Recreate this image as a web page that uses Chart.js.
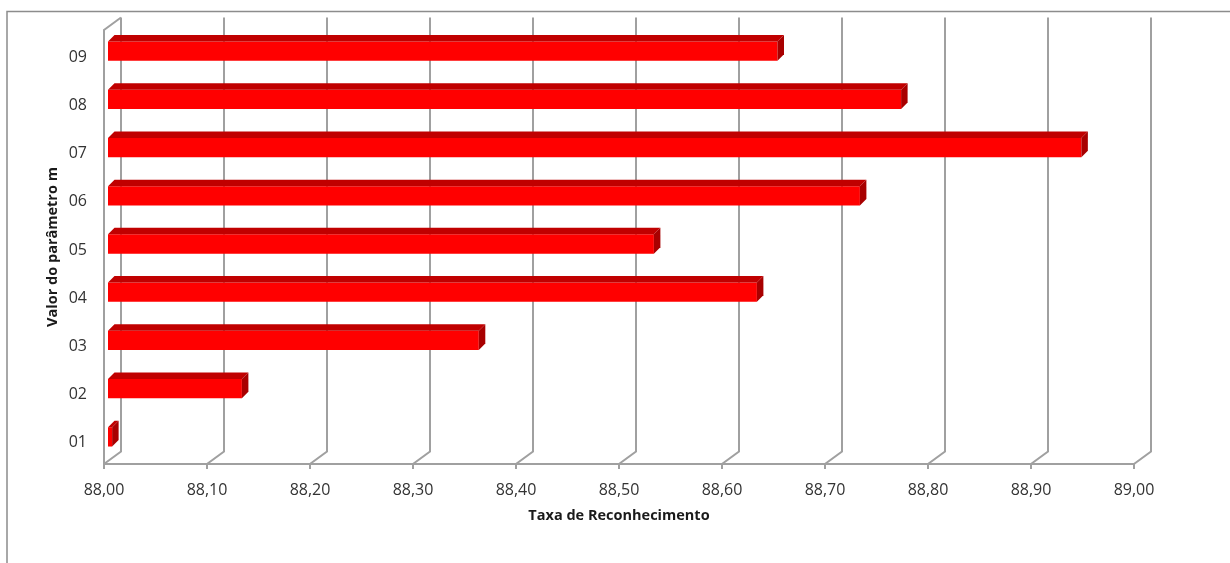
<!DOCTYPE html>
<html>
<head>
<meta charset="utf-8">
<script src="https://cdn.jsdelivr.net/npm/chart.js@4/dist/chart.umd.min.js"></script>
<style>
    html, body { margin: 0; padding: 0; background: #ffffff; }
    #wrap { width: 1230px; height: 563px; position: relative; }
</style>
</head>
<body>
<div id="wrap"><canvas id="taxaChart" width="1230" height="563"></canvas></div>
<script>
const categories = ["01", "02", "03", "04", "05", "06", "07", "08", "09"];
const taxaReconhecimento = [88.004, 88.13, 88.36, 88.63, 88.53, 88.73, 88.945, 88.77, 88.65];
const xTicks = [88.0, 88.1, 88.2, 88.3, 88.4, 88.5, 88.6, 88.7, 88.8, 88.9, 89.0];

// 3D look: back wall offset and the depth of each bar
const WALL = { dx: 17, dy: -12.5 };
const BAR_SHIFT = { dx: 4, dy: -3 };
const BAR_DEPTH = { dx: 6.5, dy: -6.5 };
const GRID_COLOR = "#a0a0a0";

function fmt(v) {
    return Number(v).toFixed(2).replace(".", ",");
}

const walls3d = {
    id: "walls3d",
    beforeDraw(chart) {
        const ctx = chart.ctx;
        const area = chart.chartArea;
        const x = chart.scales.x;

        ctx.save();
        // outer frame
        ctx.strokeStyle = "#8c8c8c";
        ctx.lineWidth = 1.5;
        ctx.beginPath();
        ctx.moveTo(7, chart.height);
        ctx.lineTo(7, 11.5);
        ctx.lineTo(chart.width, 11.5);
        ctx.stroke();

        ctx.strokeStyle = GRID_COLOR;
        ctx.lineWidth = 2;
        ctx.beginPath();
        xTicks.forEach((v) => {
            const px = Math.round(x.getPixelForValue(v));
            // back wall gridline
            ctx.moveTo(px + WALL.dx, area.top + WALL.dy);
            ctx.lineTo(px + WALL.dx, area.bottom + WALL.dy);
            // floor edge
            ctx.lineTo(px, area.bottom);
            // tick mark
            ctx.lineTo(px, area.bottom + 5);
        });
        // left wall
        ctx.moveTo(area.left + WALL.dx, area.top + WALL.dy);
        ctx.lineTo(area.left, area.top);
        ctx.lineTo(area.left, area.bottom);
        // floor front edge
        ctx.lineTo(Math.round(x.getPixelForValue(89)), area.bottom);
        ctx.stroke();
        ctx.restore();
    },
    beforeDatasetsDraw(chart) {
        chart.ctx.save();
        chart.ctx.translate(BAR_SHIFT.dx, BAR_SHIFT.dy);
    },
    afterDatasetsDraw(chart) {
        const ctx = chart.ctx;
        const meta = chart.getDatasetMeta(0);
        meta.data.forEach((bar) => {
            const left = Math.min(bar.base, bar.x);
            const right = Math.max(bar.base, bar.x);
            const top = bar.y - bar.height / 2;
            const bottom = bar.y + bar.height / 2;

            ctx.fillStyle = "#c00000";
            ctx.beginPath();
            ctx.moveTo(left, top);
            ctx.lineTo(left + BAR_DEPTH.dx, top + BAR_DEPTH.dy);
            ctx.lineTo(right + BAR_DEPTH.dx, top + BAR_DEPTH.dy);
            ctx.lineTo(right, top);
            ctx.closePath();
            ctx.fill();

            ctx.fillStyle = "#a80000";
            ctx.beginPath();
            ctx.moveTo(right, top);
            ctx.lineTo(right + BAR_DEPTH.dx, top + BAR_DEPTH.dy);
            ctx.lineTo(right + BAR_DEPTH.dx, bottom + BAR_DEPTH.dy);
            ctx.lineTo(right, bottom);
            ctx.closePath();
            ctx.fill();
        });
        ctx.restore();
    },
};

const chart = new Chart(document.getElementById("taxaChart"), {
    type: "bar",
    data: {
        labels: categories,
        datasets: [
            {
                label: "Taxa de Reconhecimento",
                data: taxaReconhecimento,
                base: 88,
                backgroundColor: "#ff0000",
                borderWidth: 0,
                categoryPercentage: 1,
                barPercentage: 0.4,
                clip: false,
            },
        ],
    },
    options: {
        indexAxis: "y",
        responsive: false,
        animation: false,
        layout: {
            padding: { top: 30, right: 96, left: 0, bottom: 0 },
        },
        plugins: {
            legend: { display: false },
            tooltip: { enabled: false },
        },
        scales: {
            x: {
                min: 88,
                max: 89,
                afterBuildTicks(scale) {
                    scale.ticks = xTicks.map((v) => ({ value: v }));
                },
                afterFit(scale) {
                    scale.height = 99;
                },
                grid: { display: false, drawTicks: false },
                border: { display: false },
                ticks: {
                    padding: 17,
                    color: "#333333",
                    font: { family: "Open Sans", size: 16 },
                    callback: (v) => fmt(v),
                    maxRotation: 0,
                    autoSkip: false,
                },
                title: {
                    display: true,
                    text: "Taxa de Reconhecimento",
                    color: "#1a1a1a",
                    font: { family: "Open Sans", size: 14.5, weight: "bold" },
                    padding: { top: 0, bottom: 38 },
                },
            },
            y: {
                reverse: true,
                afterFit(scale) {
                    scale.width = 104;
                },
                grid: { display: false, drawTicks: false },
                border: { display: false },
                ticks: {
                    padding: 17,
                    labelOffset: 3,
                    color: "#333333",
                    font: { family: "Open Sans", size: 16 },
                },
                title: {
                    display: true,
                    text: "Valor do parâmetro m",
                    color: "#1a1a1a",
                    font: { family: "Open Sans", size: 14.5, weight: "bold" },
                    padding: { top: 44, bottom: 0 },
                },
            },
        },
    },
    plugins: [walls3d],
});
</script>
</body>
</html>
